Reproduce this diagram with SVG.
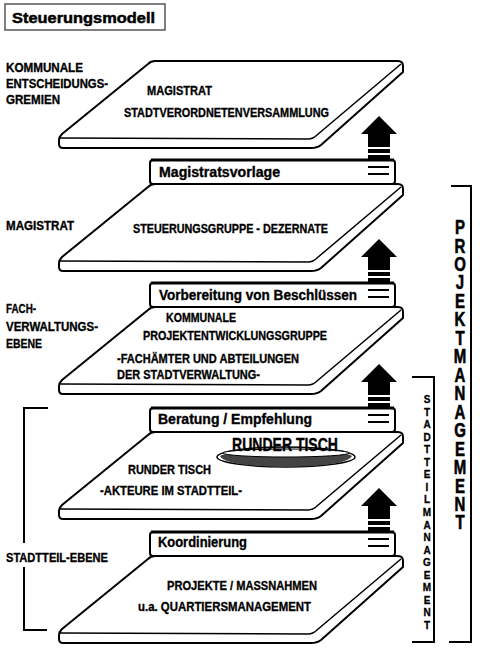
<svg xmlns="http://www.w3.org/2000/svg" xmlns:xlink="http://www.w3.org/1999/xlink" width="480" height="649" viewBox="0 0 480 649">
<style>
text { font-family: "Liberation Sans", Arial, sans-serif; font-weight: bold; fill: #000; stroke: #000; stroke-width: 0.35; }
.cap { font-size: 13px; }
.box { font-size: 14px; }
.title { font-size: 15px; stroke-width: 0.5; }
.vert { writing-mode: vertical-rl; text-orientation: upright; }
.pm { font-size: 20px; stroke-width: 0.6; }
.sm { font-size: 10px; stroke-width: 0.3; }
.outline { fill: #fff; stroke: #000; stroke-width: 2; stroke-linejoin: round; }
.inner { fill: none; stroke: #000; stroke-width: 1.5; }
.tab { fill: #fff; stroke: #000; stroke-width: 2; }
.brk { fill: none; stroke: #000; stroke-width: 2; }
</style>
<defs>
  <g id="plate">
    <path class="outline" d="M155,0 L398,0 Q403,0 403,5 L403,11 L321,84 Q317,87 311,87 L63,87 Q59,87 59,83 L59,79 Q59,76 62,73 L148,3 Q151,0 155,0 Z"/>
    <path class="inner" d="M60,77 L308,78 Q313,78 317,74 L401,3"/>
  </g>
  <g id="tab">
    <rect class="tab" x="150" y="-24" width="245" height="24" rx="3"/>
    <line x1="151" y1="-24" x2="394" y2="-24" stroke="#000" stroke-width="3"/>
  </g>
  <g id="arrow">
    <polygon points="379,-44 397,-26 390,-26 390,-13 368,-13 368,-26 361,-26" fill="#000"/>
    <rect x="368" y="-11" width="22" height="4" fill="#000"/>
    <rect x="368" y="-5" width="22" height="5" fill="#000"/>
    <line x1="368" y1="7" x2="389" y2="7" stroke="#000" stroke-width="2"/>
    <line x1="368" y1="14" x2="389" y2="14" stroke="#000" stroke-width="2"/>
  </g>
</defs>
<rect width="480" height="649" fill="#fff"/>

<g id="title">
  <rect x="5" y="4" width="160" height="26" fill="#fff" stroke="#555" stroke-width="1.5"/>
  <text class="title" x="12" y="23" textLength="143" lengthAdjust="spacingAndGlyphs">Steuerungsmodell</text>
</g>

<g id="labels-left">
  <text class="cap" x="6" y="72" textLength="77" lengthAdjust="spacingAndGlyphs">KOMMUNALE</text>
  <text class="cap" x="6" y="88" textLength="102" lengthAdjust="spacingAndGlyphs">ENTSCHEIDUNGS-</text>
  <text class="cap" x="6" y="104" textLength="54" lengthAdjust="spacingAndGlyphs">GREMIEN</text>
  <text class="cap" x="6" y="230" textLength="68" lengthAdjust="spacingAndGlyphs">MAGISTRAT</text>
  <text class="cap" x="6" y="313" textLength="30" lengthAdjust="spacingAndGlyphs">FACH-</text>
  <text class="cap" x="6" y="331" textLength="92" lengthAdjust="spacingAndGlyphs">VERWALTUNGS-</text>
  <text class="cap" x="6" y="348" textLength="36" lengthAdjust="spacingAndGlyphs">EBENE</text>
  <text class="cap" x="6" y="562" textLength="102" lengthAdjust="spacingAndGlyphs">STADTTEIL-EBENE</text>
</g>

<g id="plate1">
  <use xlink:href="#plate" transform="translate(0,61)"/>
  <text class="cap" x="147" y="95" textLength="65" lengthAdjust="spacingAndGlyphs">MAGISTRAT</text>
  <text class="cap" x="124" y="117" textLength="205" lengthAdjust="spacingAndGlyphs">STADTVERORDNETENVERSAMMLUNG</text>
</g>

<g id="plate2">
  <use xlink:href="#plate" transform="translate(0,184)"/>
  <use xlink:href="#tab" transform="translate(0,184)"/>
  <text class="box" x="159" y="177" textLength="121" lengthAdjust="spacingAndGlyphs">Magistratsvorlage</text>
  <text class="cap" x="133" y="233" textLength="195" lengthAdjust="spacingAndGlyphs">STEUERUNGSGRUPPE - DEZERNATE</text>
</g>

<g id="plate3">
  <use xlink:href="#plate" transform="translate(0,307)"/>
  <use xlink:href="#tab" transform="translate(0,307)"/>
  <text class="box" x="159" y="300" textLength="198" lengthAdjust="spacingAndGlyphs">Vorbereitung von Beschlüssen</text>
  <text class="cap" x="166" y="322" textLength="70" lengthAdjust="spacingAndGlyphs">KOMMUNALE</text>
  <text class="cap" x="143" y="340" textLength="184" lengthAdjust="spacingAndGlyphs">PROJEKTENTWICKLUNGSGRUPPE</text>
  <text class="cap" x="117" y="363" textLength="182" lengthAdjust="spacingAndGlyphs">-FACHÄMTER UND ABTEILUNGEN</text>
  <text class="cap" x="117" y="379" textLength="143" lengthAdjust="spacingAndGlyphs">DER STADTVERWALTUNG-</text>
</g>

<g id="plate4">
  <use xlink:href="#plate" transform="translate(0,432)"/>
  <use xlink:href="#tab" transform="translate(0,432)"/>
  <text class="box" x="158" y="424" textLength="154" lengthAdjust="spacingAndGlyphs">Beratung / Empfehlung</text>
  <g id="runder-tisch-disc">
    <ellipse cx="286" cy="457" rx="69" ry="10" fill="#fff" stroke="#000" stroke-width="1.5"/>
    <path d="M220,456 Q224,466 286,467 Q348,466 352,456 Q346,451 286,450 Q226,451 220,456 Z" fill="#444"/>
    <ellipse cx="286" cy="453" rx="63" ry="4" fill="#fff" stroke="#000" stroke-width="1"/>
    <text x="232" y="451" style="font-size:18px" textLength="106" lengthAdjust="spacingAndGlyphs">RUNDER TISCH</text>
  </g>
  <text class="cap" x="128" y="474" textLength="83" lengthAdjust="spacingAndGlyphs">RUNDER TISCH</text>
  <text class="cap" x="100" y="495" textLength="142" lengthAdjust="spacingAndGlyphs">-AKTEURE IM STADTTEIL-</text>
</g>

<g id="plate5">
  <use xlink:href="#plate" transform="translate(0,556)"/>
  <use xlink:href="#tab" transform="translate(0,556)"/>
  <text class="box" x="158" y="547" textLength="89" lengthAdjust="spacingAndGlyphs">Koordinierung</text>
  <text class="cap" x="167" y="590" textLength="150" lengthAdjust="spacingAndGlyphs">PROJEKTE / MASSNAHMEN</text>
  <text class="cap" x="138" y="611" textLength="173" lengthAdjust="spacingAndGlyphs">u.a. QUARTIERSMANAGEMENT</text>
</g>

<g id="connectors">
  <use xlink:href="#arrow" transform="translate(0,160)"/>
  <use xlink:href="#arrow" transform="translate(0,283)"/>
  <use xlink:href="#arrow" transform="translate(0,408)"/>
  <use xlink:href="#arrow" transform="translate(0,532)"/>
  <path class="brk" d="M451,186 L471,186 L471,642 L449,642"/>
  <path class="brk" d="M412,377 L434,377 L434,642 L412,642"/>
  <path class="brk" stroke-width="1.5" d="M48,408 L24,408 L24,543 M24,567 L24,630 L47,630"/>
</g>

<g id="projektmanagement">
  <g transform="translate(460,0) scale(0.75,1)">
    <text class="pm vert" x="0" y="216" textLength="318" lengthAdjust="spacing">PROJEKTMANAGEMENT</text>
  </g>
</g>

<g id="stadtteilmanagement">
  <text class="sm vert" x="427" y="394" textLength="237" lengthAdjust="spacing">STADTTEILMANAGEMENT</text>
</g>
</svg>
